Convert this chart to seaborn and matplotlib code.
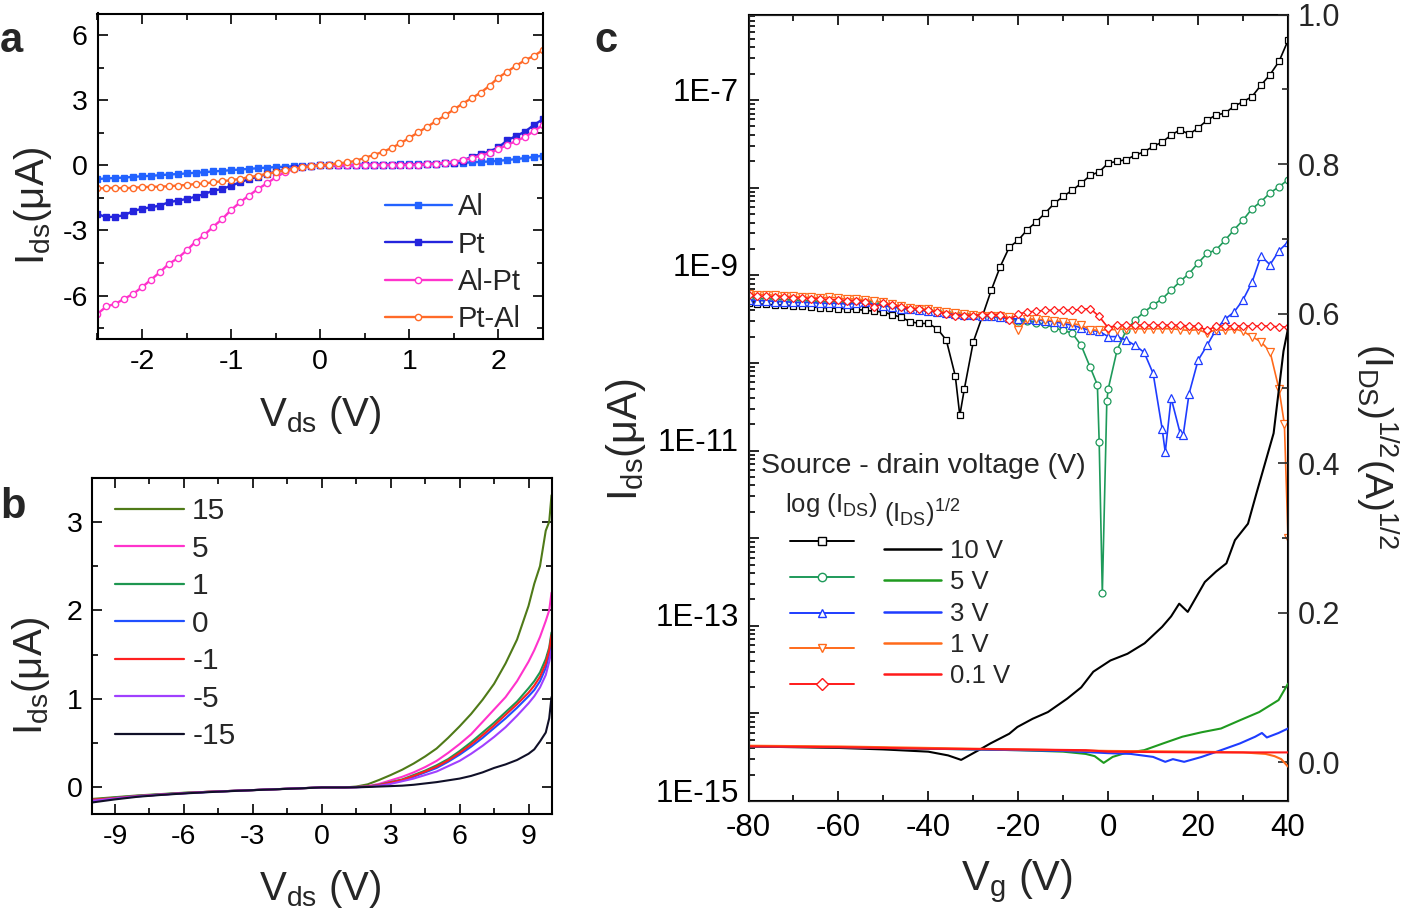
import numpy as np
import pandas as pd
import matplotlib
matplotlib.use("Agg")
import matplotlib.pyplot as plt
import matplotlib.ticker as mticker
import matplotlib.transforms as mtransforms
from matplotlib.lines import Line2D
import seaborn as sns

# ---------------- panel a : I-V of the four contact pairs (uA) ----------------
VDS_A = np.round(np.arange(-2.5, 2.51, 0.1), 1)
I_AL = [-0.63, -0.60, -0.58, -0.56, -0.53, -0.50, -0.48, -0.45, -0.42, -0.40,
        -0.37, -0.34, -0.31, -0.28, -0.25, -0.22, -0.19, -0.16, -0.13, -0.10,
        -0.08, -0.06, -0.04, -0.02, -0.01, 0.0, 0.01, 0.01, 0.02, 0.02,
        0.03, 0.03, 0.04, 0.04, 0.05, 0.05, 0.06, 0.07, 0.08, 0.09,
        0.10, 0.12, 0.14, 0.16, 0.18, 0.21, 0.25, 0.29, 0.34, 0.39, 0.45]
I_PT = [-2.24, -2.39, -2.36, -2.30, -2.10, -2.00, -1.93, -1.85, -1.70, -1.62,
        -1.55, -1.44, -1.32, -1.16, -1.09, -0.93, -0.78, -0.63, -0.52, -0.40,
        -0.29, -0.21, -0.14, -0.08, -0.03, 0.0, 0.01, 0.01, 0.01, 0.01,
        0.02, 0.02, 0.02, 0.02, 0.03, 0.03, 0.04, 0.06, 0.08, 0.10,
        0.13, 0.22, 0.40, 0.52, 0.64, 0.83, 1.16, 1.36, 1.56, 1.87, 2.13]
I_ALPT = [-6.84, -6.50, -6.38, -6.15, -5.92, -5.61, -5.27, -4.92, -4.54, -4.28,
          -3.92, -3.52, -3.20, -2.82, -2.47, -2.05, -1.70, -1.39, -1.09, -0.83,
          -0.55, -0.32, -0.17, -0.09, -0.04, 0.0, 0.01, 0.01, 0.01, 0.01,
          0.02, 0.02, 0.02, 0.02, 0.03, 0.03, 0.04, 0.05, 0.08, 0.12,
          0.17, 0.24, 0.34, 0.45, 0.57, 0.75, 0.95, 1.12, 1.32, 1.58, 1.87]
I_PTAL = [-1.06, -1.04, -1.04, -1.05, -1.03, -1.00, -0.99, -0.98, -0.96, -0.93,
          -0.90, -0.86, -0.83, -0.78, -0.73, -0.68, -0.62, -0.55, -0.47, -0.39,
          -0.31, -0.23, -0.16, -0.09, -0.04, 0.0, 0.04, 0.09, 0.14, 0.21,
          0.35, 0.48, 0.62, 0.80, 1.02, 1.27, 1.52, 1.78, 2.04, 2.30,
          2.58, 2.85, 3.10, 3.35, 3.67, 4.05, 4.32, 4.60, 4.85, 5.05, 5.32]

# ---------------- panel b : I-V at different gate voltages (uA) ----------------
VDS_B = [-10, -9, -8, -7, -6, -5, -4, -3, -2, -1, 0, 1, 1.5, 2, 2.5, 3, 3.5, 4,
         4.5, 5, 5.5, 6, 6.5, 7, 7.5, 8, 8.5, 9, 9.25, 9.5, 9.75, 9.9, 10]
IB_P15 = [-0.13, -0.11, -0.09, -0.075, -0.06, -0.05, -0.04, -0.03, -0.02, -0.01, 0.0, 0.0,
          0.01, 0.035, 0.085, 0.14, 0.20, 0.27, 0.35, 0.44, 0.56, 0.69, 0.83, 0.99,
          1.17, 1.40, 1.67, 2.05, 2.30, 2.50, 2.90, 3.00, 3.30]
IB_P5 = [-0.14, -0.12, -0.095, -0.08, -0.065, -0.05, -0.04, -0.03, -0.02, -0.01, 0.0, 0.0,
         0.005, 0.015, 0.04, 0.08, 0.12, 0.17, 0.23, 0.30, 0.39, 0.49, 0.60, 0.74,
         0.88, 1.02, 1.20, 1.42, 1.55, 1.70, 1.88, 2.00, 2.20]
IB_P1 = [-0.14, -0.115, -0.095, -0.078, -0.062, -0.05, -0.04, -0.03, -0.02, -0.01, 0.0, 0.0,
         0.004, 0.01, 0.03, 0.06, 0.09, 0.14, 0.19, 0.25, 0.32, 0.41, 0.51, 0.62,
         0.73, 0.85, 0.97, 1.12, 1.20, 1.30, 1.45, 1.58, 1.75]
IB_0 = [-0.15, -0.12, -0.10, -0.08, -0.065, -0.052, -0.04, -0.03, -0.02, -0.01, 0.0, 0.0,
        0.003, 0.008, 0.025, 0.05, 0.08, 0.12, 0.17, 0.22, 0.29, 0.37, 0.46, 0.56,
        0.67, 0.78, 0.90, 1.03, 1.10, 1.20, 1.35, 1.50, 1.65]
IB_M1 = [-0.14, -0.12, -0.098, -0.08, -0.064, -0.05, -0.04, -0.03, -0.02, -0.01, 0.0, 0.0,
         0.003, 0.009, 0.027, 0.055, 0.085, 0.13, 0.18, 0.235, 0.305, 0.39, 0.485, 0.59,
         0.70, 0.82, 0.94, 1.07, 1.15, 1.25, 1.40, 1.55, 1.72]
IB_M5 = [-0.15, -0.125, -0.10, -0.082, -0.066, -0.052, -0.041, -0.03, -0.02, -0.01, 0.0, 0.0,
         0.002, 0.006, 0.02, 0.04, 0.07, 0.10, 0.14, 0.18, 0.24, 0.30, 0.38, 0.47,
         0.57, 0.68, 0.81, 0.95, 1.03, 1.13, 1.27, 1.42, 1.55]
IB_M15 = [-0.17, -0.135, -0.105, -0.085, -0.068, -0.054, -0.042, -0.031, -0.021, -0.011, 0.0, 0.0,
          0.002, 0.005, 0.01, 0.015, 0.02, 0.03, 0.045, 0.06, 0.08, 0.10, 0.13, 0.17,
          0.22, 0.26, 0.31, 0.38, 0.43, 0.52, 0.62, 0.78, 1.02]
GATE_LABELS = ["15", "5", "1", "0", "-1", "-5", "-15"]

# ---------------- panel c : transfer curves ----------------
VG_LOG = np.arange(-80, 41, 2)          # gate sweep, 2 V steps
# log10 of I_DS (left axis)
LOG_10V = [-9.32, -9.33, -9.33, -9.34, -9.34, -9.35, -9.35, -9.36, -9.37, -9.37,
           -9.38, -9.38, -9.39, -9.40, -9.41, -9.42, -9.45, -9.48, -9.53, -9.55,
           -9.55, -9.61, -9.74, -10.15, -10.30, -9.76, -9.47, -9.17, -8.90, -8.68,
           -8.60, -8.48, -8.39, -8.29, -8.18, -8.10, -8.03, -7.95, -7.86, -7.82,
           -7.72, -7.70, -7.68, -7.63, -7.59, -7.53, -7.48, -7.40, -7.34, -7.39,
           -7.32, -7.23, -7.17, -7.15, -7.07, -7.02, -6.96, -6.83, -6.71, -6.56, -6.32]
LOG_5V = [-9.26, -9.26, -9.27, -9.27, -9.28, -9.28, -9.29, -9.29, -9.30, -9.30,
          -9.30, -9.31, -9.30, -9.29, -9.31, -9.33, -9.35, -9.37, -9.38, -9.39,
          -9.40, -9.41, -9.42, -9.43, -9.44, -9.45, -9.46, -9.47, -9.48, -9.49,
          -9.52, -9.52, -9.54, -9.56, -9.60, -9.63, -9.66, -9.80, -10.05, -10.90,
          -10.30, -9.85, -9.63, -9.51, -9.42, -9.34, -9.27, -9.17, -9.07, -8.98,
          -8.86, -8.75, -8.71, -8.60, -8.48, -8.37, -8.24, -8.16, -8.06, -7.99, -7.91]
LOG_3V = [-9.28, -9.29, -9.29, -9.30, -9.30, -9.31, -9.31, -9.31, -9.32, -9.32,
          -9.32, -9.33, -9.32, -9.31, -9.33, -9.35, -9.36, -9.38, -9.39, -9.40,
          -9.41, -9.42, -9.43, -9.44, -9.45, -9.45, -9.46, -9.47, -9.48, -9.49,
          -9.50, -9.50, -9.51, -9.52, -9.53, -9.55, -9.57, -9.60, -9.63, -9.64,
          -9.70, -9.70, -9.74, -9.80, -9.88, -10.12, -10.75, -10.40, -10.80, -10.35,
          -9.97, -9.80, -9.62, -9.50, -9.42, -9.28, -9.08, -8.78, -8.88, -8.72, -8.62]
LOG_1V = [-9.21, -9.22, -9.22, -9.23, -9.24, -9.24, -9.25, -9.25, -9.26, -9.25,
          -9.26, -9.27, -9.27, -9.28, -9.29, -9.31, -9.33, -9.35, -9.37, -9.38,
          -9.39, -9.41, -9.42, -9.43, -9.44, -9.45, -9.46, -9.46, -9.47, -9.48,
          -9.62, -9.50, -9.50, -9.51, -9.52, -9.53, -9.55, -9.57, -9.62, -9.63,
          -9.62, -9.62, -9.61, -9.61, -9.61, -9.61, -9.61, -9.61, -9.62, -9.63,
          -9.62, -9.66, -9.62, -9.63, -9.61, -9.64, -9.70, -9.76, -9.87, -10.30, -12.0]
LOG_01V = [-9.23, -9.24, -9.24, -9.25, -9.25, -9.26, -9.26, -9.27, -9.27, -9.28,
           -9.28, -9.29, -9.29, -9.30, -9.36, -9.32, -9.34, -9.36, -9.38, -9.39,
           -9.40, -9.42, -9.44, -9.46, -9.46, -9.46, -9.45, -9.45, -9.45, -9.51,
           -9.44, -9.42, -9.41, -9.40, -9.40, -9.40, -9.40, -9.39, -9.38, -9.47,
           -9.60, -9.57, -9.57, -9.57, -9.57, -9.57, -9.57, -9.57, -9.57, -9.58,
           -9.58, -9.63, -9.58, -9.58, -9.58, -9.58, -9.58, -9.58, -9.58, -9.59, -9.59]
# extra sweep points resolving the sharp dips
EXTRA_VG = {"10 V": [-33.0], "5 V": [-2.4, -1.3, -0.3], "3 V": [12.7, 16.7],
            "1 V": [39.2], "0.1 V": []}
EXTRA_LOG = {"10 V": [-10.6], "5 V": [-10.25, -12.63, -10.44], "3 V": [-11.02, -10.82],
             "1 V": [-10.7], "0.1 V": []}

# (I_DS)^1/2 (right axis)
SQ_VG_10V = [-80, -70, -60, -50, -40, -35.6, -32.7, -28.8, -26.2, -22, -20.2, -16.8,
             -13.4, -9.1, -6, -3.3, 0.5, 4.3, 8.1, 12, 14, 15.8, 17.7, 21.5, 24, 26.3,
             28.2, 31.1, 33, 34.9, 36.8, 37.8, 39, 40]
SQ_10V = [0.021, 0.020, 0.019, 0.017, 0.014, 0.009, 0.003, 0.016, 0.025, 0.038, 0.047,
          0.058, 0.067, 0.085, 0.100, 0.121, 0.136, 0.145, 0.159, 0.181, 0.195, 0.212,
          0.201, 0.241, 0.255, 0.266, 0.297, 0.319, 0.36, 0.40, 0.44, 0.49, 0.55, 0.58]
SQ_VG_5V = [-80, -60, -40, -20, -10, -5, -3, -1, 1, 3.7, 8, 12.2, 16.5, 20.8, 25.1,
            29.3, 33.6, 37.9, 40]
SQ_5V = [0.021, 0.020, 0.018, 0.016, 0.014, 0.011, 0.008, -0.001, 0.007, 0.012, 0.016,
         0.025, 0.034, 0.040, 0.045, 0.056, 0.067, 0.083, 0.105]
SQ_VG_3V = [-80, -60, -40, -20, -10, 0, 5, 10, 12.7, 14.4, 16.9, 20.8, 25.1, 29.3,
            32.7, 34.2, 35.3, 37.9, 40]
SQ_3V = [0.021, 0.020, 0.018, 0.016, 0.015, 0.012, 0.011, 0.007, 0.0004, 0.004, 0.0004,
         0.007, 0.016, 0.025, 0.034, 0.039, 0.033, 0.039, 0.045]
SQ_VG_1V = [-80, -60, -40, -20, 0, 20, 30, 35, 37, 38.5, 40]
SQ_1V = [0.022, 0.021, 0.019, 0.017, 0.015, 0.014, 0.013, 0.011, 0.008, 0.004, -0.006]
SQ_VG_01V = [-80, -60, -40, -20, -5, 0, 20, 40]
SQ_01V = [0.021, 0.020, 0.018, 0.017, 0.016, 0.014, 0.013, 0.013]

SD_LABELS = ["10 V", "5 V", "3 V", "1 V", "0.1 V"]

# ---------------- style ----------------
sns.set_style("ticks")
plt.rcParams["font.family"] = ["Liberation Sans", "DejaVu Sans"]
plt.rcParams["mathtext.fontset"] = "custom"
plt.rcParams["mathtext.rm"] = "Liberation Sans"
plt.rcParams["mathtext.default"] = "regular"
plt.rcParams["axes.unicode_minus"] = False

W, H = 1415, 916
fig = plt.figure(figsize=(W / 100, H / 100), dpi=100, facecolor="white")


def px_axes(left, top, right, bottom):
    return fig.add_axes([left / W, 1 - bottom / H, (right - left) / W, (bottom - top) / H])


def style_axes(ax, size):
    for sp in ax.spines.values():
        sp.set_linewidth(1.5)
        sp.set_color("black")
        sp.set_visible(True)
    ax.tick_params(which="both", direction="in", top=True, right=True,
                   width=1.2, colors="black", labelsize=size, pad=7)
    ax.tick_params(which="major", length=7)
    ax.tick_params(which="minor", length=4)


# ---- a ----
ax_a = px_axes(97.5, 13.5, 543, 339)
series_a = [("Al", I_AL, "#2262ff", "s", True), ("Pt", I_PT, "#2424dd", "s", True),
            ("Al-Pt", I_ALPT, "#ff33cc", "o", False), ("Pt-Al", I_PTAL, "#ff6a28", "o", False)]
handles_a = []
for name, vals, col, mk, filled in series_a:
    sns.lineplot(x=VDS_A, y=vals, ax=ax_a, color=col, lw=1.7, marker=mk, markersize=4.5,
                 markeredgewidth=1.0, markeredgecolor=col,
                 markerfacecolor=col if filled else "white")
    handles_a.append(Line2D([], [], color=col, lw=1.7, marker=mk, markersize=4.5,
                            markeredgewidth=1.0, markeredgecolor=col,
                            markerfacecolor=col if filled else "white"))
ax_a.set_xlim(-2.5, 2.5)
ax_a.set_ylim(-8, 7)
ax_a.xaxis.set_major_locator(mticker.MultipleLocator(1))
ax_a.xaxis.set_minor_locator(mticker.MultipleLocator(0.5))
ax_a.yaxis.set_major_locator(mticker.MultipleLocator(3))
ax_a.yaxis.set_minor_locator(mticker.MultipleLocator(1.5))
style_axes(ax_a, 20.5)
ax_a.legend(handles_a, [s[0] for s in series_a], loc="upper left",
            bbox_to_anchor=(0.645, 0.448), frameon=False, fontsize=21, handlelength=2.3,
            handletextpad=0.2, labelspacing=0.32, borderpad=0, borderaxespad=0)
ax_a.set_xlabel("V$_{ds}$ (V)", fontsize=29)
ax_a.set_ylabel("I$_{ds}$(μA)", fontsize=29)
ax_a.xaxis.set_label_coords(0.5, -0.17)
ax_a.yaxis.set_label_coords(-0.097, 0.41)

# ---- b ----
ax_b = px_axes(92, 477.5, 551.5, 814)
series_b = [IB_P15, IB_P5, IB_P1, IB_0, IB_M1, IB_M5, IB_M15]
colors_b = ["#4f7a18", "#ff33cc", "#1e9650", "#2050ff", "#ff2020", "#a040ff", "#101028"]
handles_b = []
for vals, col in zip(series_b, colors_b):
    sns.lineplot(x=VDS_B, y=vals, ax=ax_b, color=col, lw=1.5)
    handles_b.append(Line2D([], [], color=col, lw=1.6))
ax_b.set_xlim(-10, 10)
ax_b.set_ylim(-0.3, 3.5)
ax_b.xaxis.set_major_locator(mticker.MultipleLocator(3))
ax_b.xaxis.set_minor_locator(mticker.MultipleLocator(1.5))
ax_b.yaxis.set_major_locator(mticker.MultipleLocator(1))
ax_b.yaxis.set_minor_locator(mticker.MultipleLocator(0.5))
style_axes(ax_b, 20.5)
ax_b.legend(handles_b, GATE_LABELS, loc="upper left", bbox_to_anchor=(0.051, 0.942),
            frameon=False, fontsize=21.5, handlelength=2.3, handletextpad=0.27,
            labelspacing=0.32, borderpad=0, borderaxespad=0)
ax_b.set_xlabel("V$_{ds}$ (V)", fontsize=29)
ax_b.set_ylabel("I$_{ds}$(μA)", fontsize=29)
ax_b.xaxis.set_label_coords(0.496, -0.16)
ax_b.yaxis.set_label_coords(-0.087, 0.41)

# ---- c ----
ax_c = px_axes(748.5, 14.7, 1288, 801)
ax_c.set_yscale("log")
log_series = [LOG_10V, LOG_5V, LOG_3V, LOG_1V, LOG_01V]
colors_log = ["black", "#1e9a5a", "#1e3cff", "#ff6a1a", "#ff1a1a"]
markers_log = ["s", "o", "^", "v", "D"]
msizes = [5, 5, 5.5, 5.5, 4.5]
for lab, vals, col, mk, ms in zip(SD_LABELS, log_series, colors_log, markers_log, msizes):
    df = pd.DataFrame({"vg": list(VG_LOG) + EXTRA_VG[lab],
                       "logi": list(vals) + EXTRA_LOG[lab]}).sort_values("vg")
    df["ids"] = 10.0 ** df["logi"]
    sns.lineplot(data=df, x="vg", y="ids", ax=ax_c, color=col, lw=1.2, marker=mk,
                 markersize=ms, markeredgewidth=0.9, markeredgecolor=col,
                 markerfacecolor="white", sort=False)
ax_c.set_xlim(-80, 40)
ax_c.set_ylim(1e-15, 10 ** -6.026)
ax_c.xaxis.set_major_locator(mticker.MultipleLocator(20))
ax_c.xaxis.set_minor_locator(mticker.MultipleLocator(10))
ax_c.yaxis.set_major_locator(mticker.FixedLocator(10.0 ** np.arange(-15, -5)))
ax_c.yaxis.set_minor_locator(mticker.LogLocator(base=10, subs=np.arange(2, 10), numticks=100))
ax_c.yaxis.set_major_formatter(mticker.FuncFormatter(
    lambda v, pos: f"1E{int(round(np.log10(v)))}" if int(round(np.log10(v))) % 2 else ""))
ax_c.yaxis.set_minor_formatter(mticker.NullFormatter())
style_axes(ax_c, 22.5)
ax_c.tick_params(axis="x", pad=9)
ax_c.set_xlabel("V$_{g}$ (V)", fontsize=30)
ax_c.set_ylabel("I$_{ds}$(μA)", fontsize=30)
ax_c.xaxis.set_label_coords(0.498, -0.072)
ax_c.yaxis.set_label_coords(-0.186, 0.459)

ax2 = ax_c.twinx()
sq_sets = [(SQ_VG_10V, SQ_10V), (SQ_VG_5V, SQ_5V), (SQ_VG_3V, SQ_3V),
           (SQ_VG_1V, SQ_1V), (SQ_VG_01V, SQ_01V)]
colors_sq = ["black", "#1f9a1f", "#1e3cff", "#ff6a1a", "#ff1a1a"]
for (xs, ys), col in zip(sq_sets, colors_sq):
    sns.lineplot(x=xs, y=ys, ax=ax2, color=col, lw=1.5, sort=False)
ax2.set_ylim(-0.052, 1.0)
ax2.yaxis.set_major_locator(mticker.MultipleLocator(0.2))
ax2.yaxis.set_minor_locator(mticker.MultipleLocator(0.1))
ax2.yaxis.set_major_formatter(mticker.FormatStrFormatter("%.1f"))
ax2.tick_params(which="both", direction="in", width=1.2, labelsize=22, pad=7)
ax2.tick_params(which="major", length=7)
ax2.tick_params(which="minor", length=4)
ax2.set_ylabel("(I$_{DS}$)$^{1/2}$(A)$^{1/2}$", fontsize=28, rotation=270, va="bottom")
ax2.yaxis.set_label_coords(1.12, 0.451)

# legend block of panel c
ax2.text(0.023, 0.417, "Source - drain voltage (V)", transform=ax2.transAxes,
         fontsize=20.5, va="baseline")
ax2.text(0.068, 0.368, "log (I$_{DS}$)", transform=ax2.transAxes, fontsize=18.5, va="baseline")
ax2.text(0.252, 0.355, "(I$_{DS}$)$^{1/2}$", transform=ax2.transAxes, fontsize=18.5,
         va="baseline")
log_handles = [Line2D([], [], color=c, lw=1.4, marker=m, markersize=6, markeredgewidth=1.0,
                      markeredgecolor=c, markerfacecolor="white")
               for c, m in zip(colors_log, markers_log)]
leg1 = ax2.legend(log_handles, [""] * 5, loc="upper left", bbox_to_anchor=(0.076, 0.343),
                  frameon=False, fontsize=18.5, handlelength=2.5, handletextpad=0,
                  labelspacing=0.455, borderpad=0, borderaxespad=0)
ax2.add_artist(leg1)
sq_handles = [Line2D([], [], color=c, lw=1.8) for c in colors_sq]
ax2.legend(sq_handles, SD_LABELS, loc="upper left", bbox_to_anchor=(0.251, 0.333),
           frameon=False, fontsize=18.5, handlelength=2.24, handletextpad=0.32,
           labelspacing=0.28, borderpad=0, borderaxespad=0)

# panel letters
for letter, x, y in [("a", 0, 52), ("b", 0, 518), ("c", 594, 52)]:
    fig.text(x / W, 1 - y / H, letter, fontsize=30, fontweight="bold", va="baseline")

# left log labels sit a little above their ticks in the original
fig.canvas.draw()
shift = mtransforms.ScaledTranslation(0, 11 / 100, fig.dpi_scale_trans)
for lab in ax_c.get_yticklabels():
    lab.set_transform(lab.get_transform() + shift)

fig.savefig("out.png", dpi=100, facecolor="white")
